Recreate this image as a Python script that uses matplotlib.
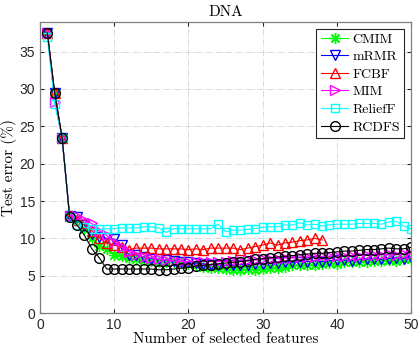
import numpy as np
import matplotlib
matplotlib.use('Agg')
import matplotlib.pyplot as plt

# numero di feature selezionate
n_feat = np.arange(1, 51)

cmim = [37.5, 29.4, 23.4, 13.0, 12.5, 11.3, 10.0, 9.0, 8.6, 7.8,
        7.6, 7.4, 7.2, 7.1, 7.0, 6.9, 6.8, 6.8, 6.7, 6.6,
        6.4, 6.2, 6.1, 6.0, 5.9, 5.8, 5.8, 5.9, 5.8, 5.9,
        6.0, 6.1, 6.2, 6.4, 6.5, 6.4, 6.5, 6.6, 6.7, 6.6,
        6.8, 6.8, 6.9, 6.9, 7.0, 7.0, 7.1, 7.0, 7.2, 7.3]
mrmr = [37.5, 29.4, 23.4, 13.0, 12.8, 11.8, 10.6, 10.2, 10.0, 9.9,
        9.1, 7.8, 7.8, 7.5, 7.3, 7.2, 7.1, 7.0, 6.9, 6.8,
        6.7, 6.6, 6.5, 6.5, 6.4, 6.4, 6.5, 6.5, 6.6, 6.6,
        6.7, 6.7, 6.8, 6.8, 6.9, 6.9, 7.0, 6.9, 7.0, 7.1,
        7.1, 7.0, 7.2, 7.2, 7.3, 7.2, 7.3, 7.4, 7.3, 7.5]
fcbf = [37.5, 29.4, 23.4, 13.0, 12.5, 12.0, 11.0, 10.0, 9.4, 9.1,
        8.9, 8.5, 8.7, 8.7, 8.7, 8.6, 8.6, 8.6, 8.6, 8.5,
        8.6, 8.5, 8.7, 8.7, 8.7, 8.7, 8.5, 8.7, 8.9, 9.1,
        9.4, 9.1, 9.4, 9.5, 9.7, 9.8, 10.0, 9.8]
mim = [37.5, 28.3, 23.4, 13.0, 13.0, 12.4, 12.0, 11.0, 10.4, 9.5,
       8.8, 8.2, 7.8, 7.5, 7.4, 7.2, 7.1, 7.0, 6.9, 6.9,
       6.9, 6.9, 6.9, 6.9, 6.9, 7.0, 7.0, 7.1, 7.1, 7.2,
       7.3, 7.3, 7.4, 7.4, 7.5, 7.5, 7.5, 7.6, 7.6, 7.6,
       7.7, 7.7, 7.7, 7.8, 7.8, 7.8, 7.9, 7.8, 7.9, 7.9]
relieff = [37.0, 28.0, 23.4, 12.8, 11.8, 11.5, 11.2, 11.2, 11.3, 11.3,
           11.4, 11.4, 11.4, 11.55, 11.55, 11.4, 10.8, 11.3, 11.3, 11.3,
           11.3, 11.3, 11.3, 11.9, 10.9, 11.1, 11.1, 11.2, 11.3, 11.5,
           11.55, 11.55, 11.8, 11.8, 12.1, 11.8, 11.9, 11.65, 11.8, 11.9,
           11.9, 11.9, 12.0, 12.0, 12.0, 11.9, 12.2, 12.3, 11.65, 11.3]
rcdfs = [37.5, 29.4, 23.4, 12.9, 11.8, 10.4, 8.6, 7.4, 5.9, 5.9,
         5.9, 5.9, 5.9, 5.9, 5.9, 5.8, 5.8, 5.9, 6.0, 6.1,
         6.3, 6.4, 6.5, 6.6, 6.7, 6.8, 6.9, 7.0, 7.2, 7.3,
         7.4, 7.5, 7.6, 7.7, 7.8, 7.9, 8.0, 8.0, 8.1, 8.2,
         8.3, 8.3, 8.4, 8.5, 8.5, 8.6, 8.7, 8.6, 8.6, 8.8]

serif = 'cmr10'

fig = plt.figure(figsize=(4.2, 3.51), dpi=100)
ax = fig.add_axes([0.095, 0.108, 0.884, 0.83])

lw = 0.8
ax.plot(n_feat, cmim, '-', marker=(8, 2, 0), color='#00ff00', ms=8, mew=1.0, lw=lw, label='CMIM')
ax.plot(n_feat, mrmr, '-v', color='#0000ff', mfc='none', ms=6.5, lw=lw, label='mRMR')
ax.plot(n_feat[:len(fcbf)], fcbf, '-^', color='#ff0000', mfc='none', ms=6.5, lw=lw, label='FCBF')
ax.plot(n_feat, mim, '->', color='#ff00ff', mfc='none', ms=6.5, lw=lw, label='MIM')
ax.plot(n_feat, relieff, '-s', color='#00ffff', mfc='none', ms=6, lw=lw, label='ReliefF')
ax.plot(n_feat, rcdfs, '-o', color='black', mfc='none', ms=7, lw=lw, label='RCDFS')

ax.set_xlim(0, 50)
ax.set_ylim(0, 39)
ax.set_xticks(range(0, 51, 10))
ax.set_yticks(range(0, 36, 5))
ax.grid(True, linestyle='-.', color='#d9d9d9', linewidth=0.7)
ax.tick_params(direction='in', top=True, right=True, labelsize=10, length=3,
               color='#262626', labelcolor='#262626')
for t in ax.get_xticklabels() + ax.get_yticklabels():
    t.set_fontfamily('Liberation Sans')
for s in ax.spines.values():
    s.set_color('#808080')
    s.set_linewidth(0.9)

ax.set_xlabel('Number of selected features', fontfamily=serif, fontsize=11, labelpad=0)
ax.set_ylabel('Test error (%)', fontfamily=serif, fontsize=11, labelpad=2)
ax.set_title('DNA', fontfamily=serif, fontsize=11, pad=4)

leg = ax.legend(loc='upper right', prop={'family': serif, 'size': 10},
                fancybox=False, framealpha=1, edgecolor='#262626',
                handlelength=2.0, handletextpad=0.3, labelspacing=0.35,
                borderpad=0.3, borderaxespad=0.5)
leg.get_frame().set_linewidth(0.8)

fig.savefig('out.png', dpi=100)
